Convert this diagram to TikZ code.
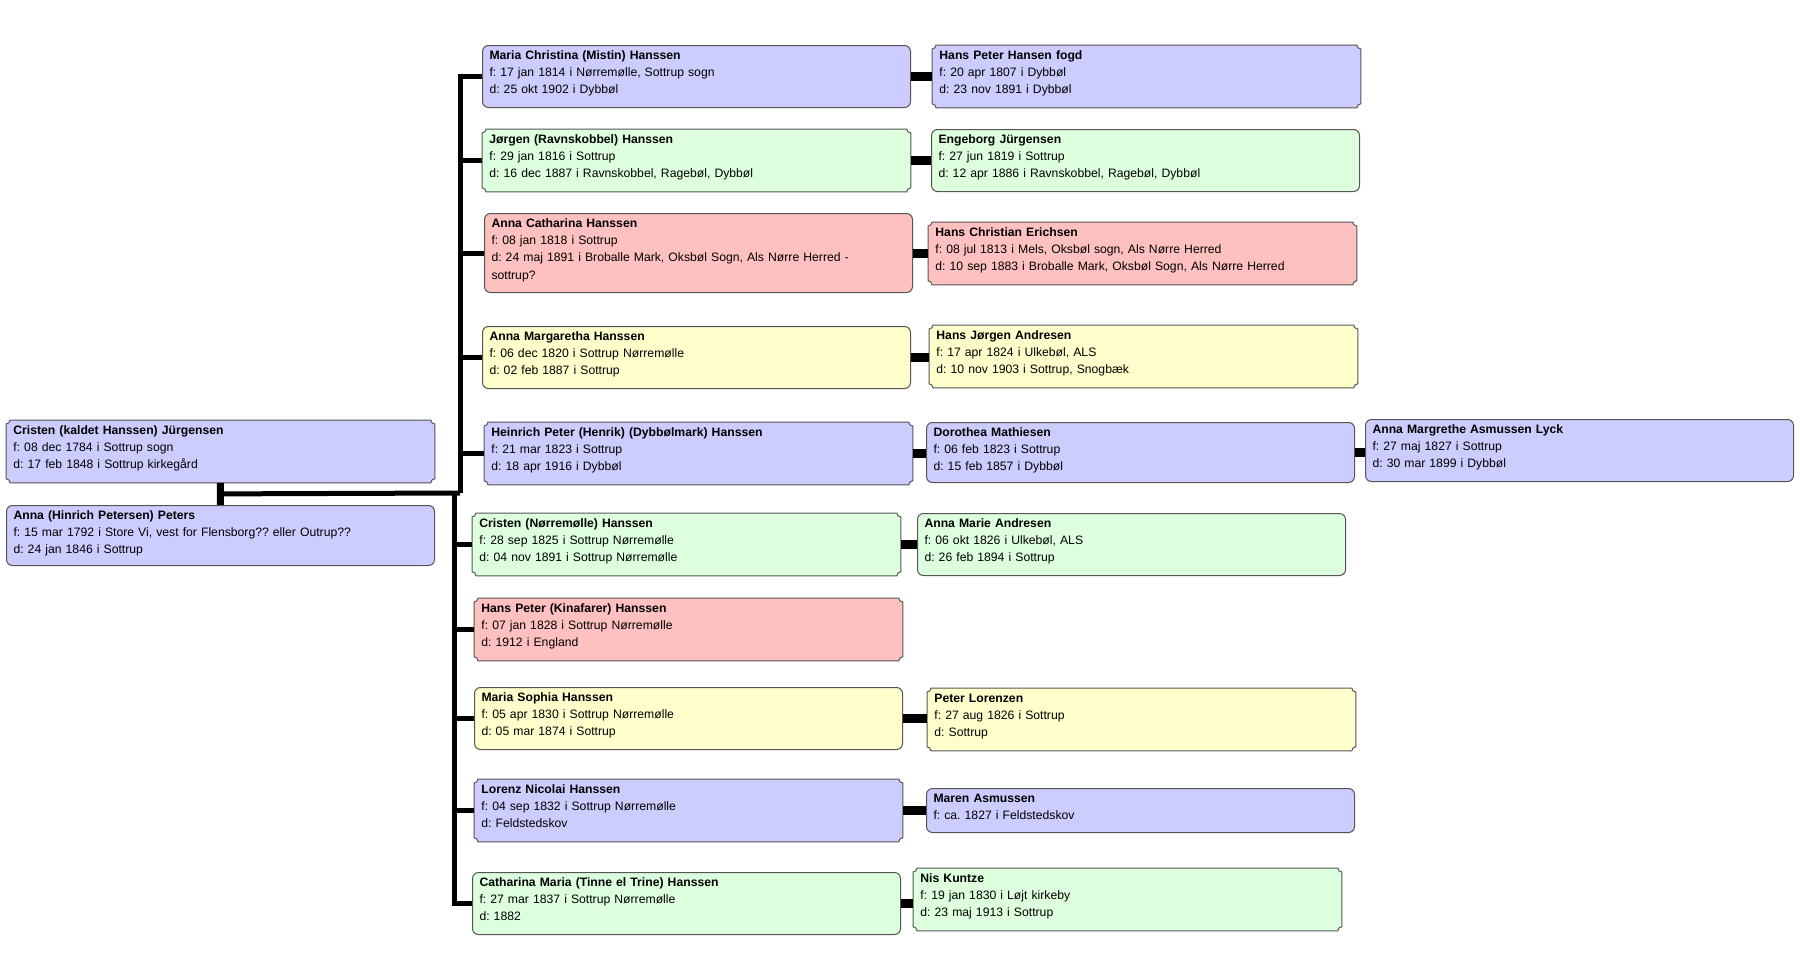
\documentclass[tikz,border=0pt]{standalone}
\usepackage{fontspec}
\setmainfont{Liberation Sans}
\usepackage{tikz}
\usetikzlibrary{calc,backgrounds}
\frenchspacing

\definecolor{lblue}{RGB}{204,204,255}
\definecolor{lgreen}{RGB}{221,255,221}
\definecolor{lred}{RGB}{255,192,192}
\definecolor{lyellow}{RGB}{255,255,204}
\definecolor{rim}{RGB}{85,85,85}

\tikzset{
  pers/.style={anchor=north west, text width=207pt, align=left, inner xsep=3.5pt, inner ysep=0pt,
    text height=7pt, text depth=24pt, font=\fontsize{6.1}{8.6}\selectfont},
  wom/.style={pers, draw=rim, line width=0.5pt, fill=#1, rounded corners=3pt},
  man/.style={pers},
  sib/.style={line width=2.5pt},
  wed/.style={line width=4.5pt},
  par/.style={line width=3.5pt}
}

\begin{document}
\begin{tikzpicture}[x=0.5pt,y=-0.5pt]
				\useasboundingbox (0,0) rectangle (1800,958);
				% parents
				\node[man] (cristen) at (6,420) {\textbf{Cristen (kaldet Hanssen) Jürgensen}\\f: 08 dec 1784 i Sottrup sogn\\d: 17 feb 1848 i Sottrup kirkegård};
				\node[wom=lblue, text depth=23pt] (anna) at (6,505) {\textbf{Anna (Hinrich Petersen) Peters}\\f: 15 mar 1792 i Store Vi, vest for Flensborg?? eller Outrup??\\d: 24 jan 1846 i Sottrup};
				% children
				\node[wom=lblue] (mariachr) at (482,45) {\textbf{Maria Christina (Mistin) Hanssen}\\f: 17 jan 1814 i Nørremølle, Sottrup sogn\\d: 25 okt 1902 i Dybbøl};
				\node[man] (joergen) at (482,129) {\textbf{Jørgen (Ravnskobbel) Hanssen}\\f: 29 jan 1816 i Sottrup\\d: 16 dec 1887 i Ravnskobbel, Ragebøl, Dybbøl};
				\node[wom=lred, text depth=32.5pt] (annacath) at (484,213) {\textbf{Anna Catharina Hanssen}\\f: 08 jan 1818 i Sottrup\\d: 24 maj 1891 i Broballe Mark, Oksbøl Sogn, Als Nørre Herred -\\sottrup?};
				\node[wom=lyellow] (annamarg) at (482,326) {\textbf{Anna Margaretha Hanssen}\\f: 06 dec 1820 i Sottrup Nørremølle\\d: 02 feb 1887 i Sottrup};
				\node[man] (heinrich) at (484,422) {\textbf{Heinrich Peter (Henrik) (Dybbølmark) Hanssen}\\f: 21 mar 1823 i Sottrup\\d: 18 apr 1916 i Dybbøl};
				\node[man] (cristenn) at (472,513) {\textbf{Cristen (Nørremølle) Hanssen}\\f: 28 sep 1825 i Sottrup Nørremølle\\d: 04 nov 1891 i Sottrup Nørremølle};
				\node[man] (hanspeter) at (474,598) {\textbf{Hans Peter (Kinafarer) Hanssen}\\f: 07 jan 1828 i Sottrup Nørremølle\\d: 1912 i England};
				\node[wom=lyellow] (mariasoph) at (474,687) {\textbf{Maria Sophia Hanssen}\\f: 05 apr 1830 i Sottrup Nørremølle\\d: 05 mar 1874 i Sottrup};
				\node[man] (lorenz) at (474,779) {\textbf{Lorenz Nicolai Hanssen}\\f: 04 sep 1832 i Sottrup Nørremølle\\d: Feldstedskov};
				\node[wom=lgreen] (catharina) at (472,872) {\textbf{Catharina Maria (Tinne el Trine) Hanssen}\\f: 27 mar 1837 i Sottrup Nørremølle\\d: 1882};
				% spouses
				\node[man] (hpfogd) at (932,45) {\textbf{Hans Peter Hansen fogd}\\f: 20 apr 1807 i Dybbøl\\d: 23 nov 1891 i Dybbøl};
				\node[wom=lgreen] (engeborg) at (931,129) {\textbf{Engeborg Jürgensen}\\f: 27 jun 1819 i Sottrup\\d: 12 apr 1886 i Ravnskobbel, Ragebøl, Dybbøl};
				\node[man] (hcerich) at (928,222) {\textbf{Hans Christian Erichsen}\\f: 08 jul 1813 i Mels, Oksbøl sogn, Als Nørre Herred\\d: 10 sep 1883 i Broballe Mark, Oksbøl Sogn, Als Nørre Herred};
				\node[man] (hjandr) at (929,325) {\textbf{Hans Jørgen Andresen}\\f: 17 apr 1824 i Ulkebøl, ALS\\d: 10 nov 1903 i Sottrup, Snogbæk};
				\node[wom=lblue, text depth=23pt] (dorothea) at (926,422) {\textbf{Dorothea Mathiesen}\\f: 06 feb 1823 i Sottrup\\d: 15 feb 1857 i Dybbøl};
				\node[wom=lblue] (lyck) at (1365,419) {\textbf{Anna Margrethe Asmussen Lyck}\\f: 27 maj 1827 i Sottrup\\d: 30 mar 1899 i Dybbøl};
				\node[wom=lgreen] (annamarie) at (917,513) {\textbf{Anna Marie Andresen}\\f: 06 okt 1826 i Ulkebøl, ALS\\d: 26 feb 1894 i Sottrup};
				\node[man] (plorenzen) at (927,688) {\textbf{Peter Lorenzen}\\f: 27 aug 1826 i Sottrup\\d: Sottrup};
				\node[wom=lblue, text depth=15pt] (maren) at (926,788) {\textbf{Maren Asmussen}\\f: ca. 1827 i Feldstedskov};
				\node[man] (nis) at (913,868) {\textbf{Nis Kuntze}\\f: 19 jan 1830 i Løjt kirkeby\\d: 23 maj 1913 i Sottrup};
				% boxes of the men, with notched corners
				\begin{scope}[on background layer]
					\foreach \n/\c in {cristen/lblue, joergen/lgreen, heinrich/lblue, cristenn/lgreen, hanspeter/lred, lorenz/lblue,
						hpfogd/lblue, hcerich/lred, hjandr/lyellow, plorenzen/lyellow, nis/lgreen}
					\draw[draw=rim, line width=0.5pt, fill=\c] ($(\n.north west)+(2pt,0pt)$) -- ($(\n.north east)+(-2pt,0pt)$)
						arc[start angle=180, end angle=270, radius=2pt] -- ($(\n.south east)+(0pt,2pt)$)
						arc[start angle=90, end angle=180, radius=2pt] -- ($(\n.south west)+(2pt,0pt)$)
						arc[start angle=0, end angle=90, radius=2pt] -- ($(\n.north west)+(0pt,-2pt)$)
						arc[start angle=270, end angle=360, radius=2pt] -- cycle;
				\end{scope}
				% family lines
				\draw[par] (cristen.south) -- (anna.north);
				\coordinate (fam) at ($(cristen.south)!0.5!(anna.north)$);
				\coordinate (barA) at (460,493);
				\coordinate (barB) at (454,493);
				\draw[sib] (fam) -- (barA);
				\foreach \c in {mariachr, joergen, annacath, annamarg, heinrich}
					\draw[sib] (barA) |- (\c.west);
				\foreach \c in {cristenn, hanspeter, mariasoph, lorenz, catharina}
					\draw[sib] (barB) |- (\c.west);
				% marriages
				\foreach \a/\b in {mariachr/hpfogd, joergen/engeborg, annacath/hcerich, annamarg/hjandr, heinrich/dorothea,
					dorothea/lyck, cristenn/annamarie, mariasoph/plorenzen, lorenz/maren, catharina/nis}
					\draw[wed] (\a.east) -- (\a.east -| \b.west);
			\end{tikzpicture}
\end{document}
